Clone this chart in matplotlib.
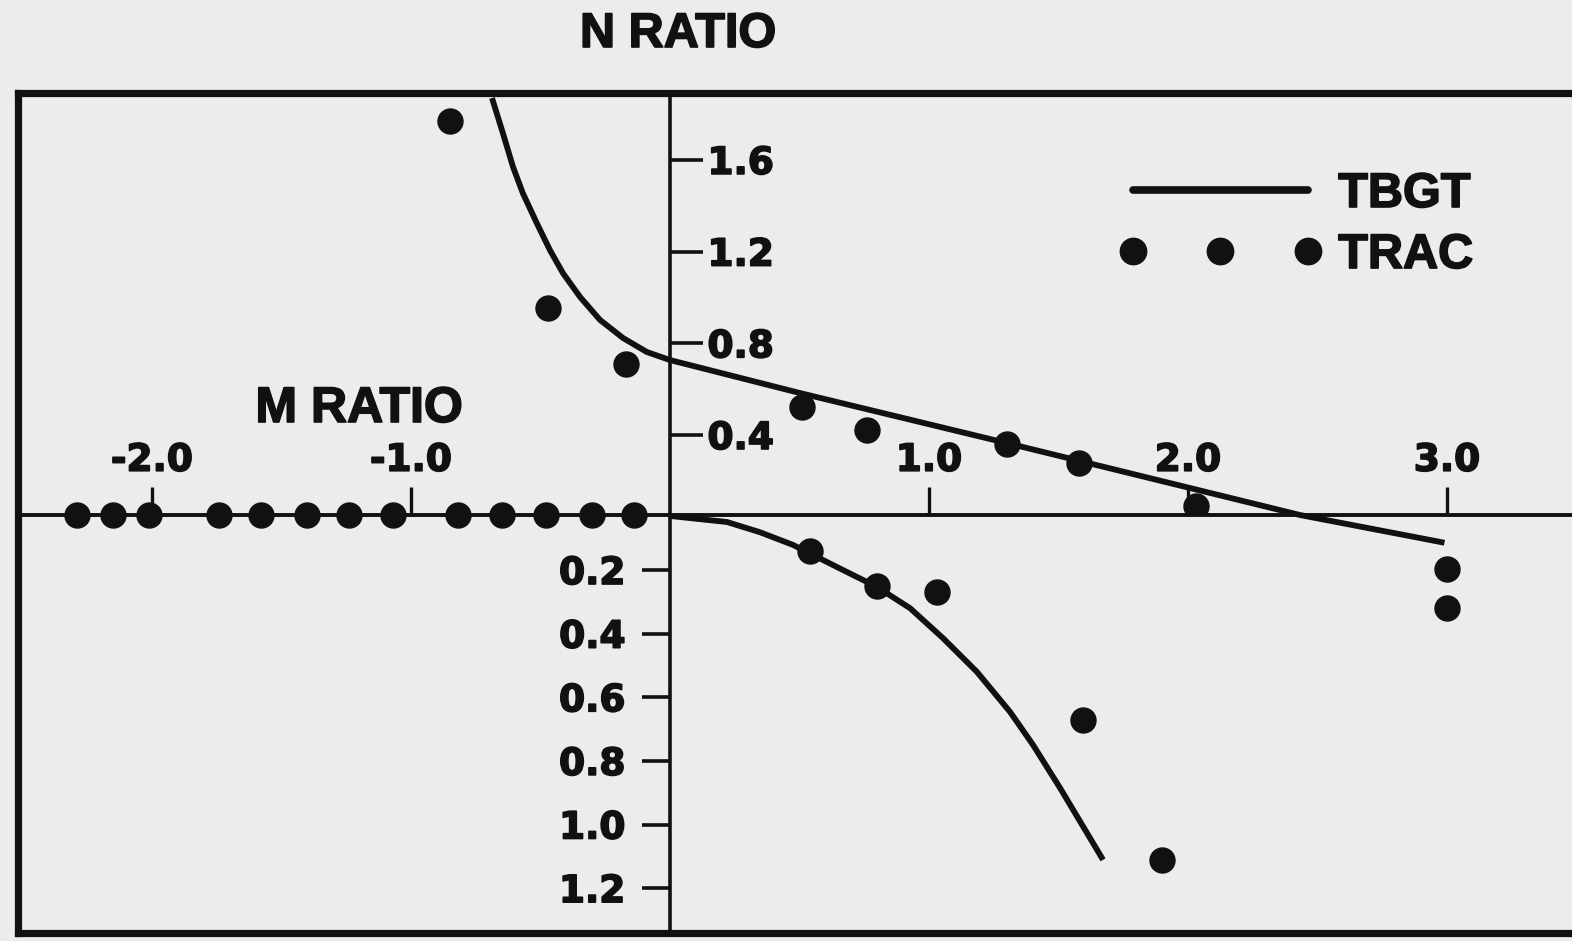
import matplotlib
matplotlib.use('Agg')
import matplotlib.pyplot as plt
import matplotlib.patheffects as pe
from matplotlib.lines import Line2D

# values
# TBGT curve, upper half (N ratio positive)
tbgt_up_m = [-0.687, -0.645, -0.606, -0.568, -0.514, -0.463, -0.413, -0.347, -0.270, -0.181, -0.089,
             0.0, 0.502, 1.30, 2.432, 2.99]
tbgt_up_n = [1.870, 1.717, 1.570, 1.455, 1.324, 1.206, 1.106, 1.002, 0.902, 0.823, 0.762,
             0.727, 0.583, 0.365, 0.051, -0.07]
# TBGT curve, lower half
tbgt_lo_m = [0.0, 0.220, 0.347, 0.475, 0.668, 0.799, 0.927, 1.054, 1.185, 1.313, 1.402, 1.506, 1.672]
tbgt_lo_n = [0.030, 0.049, 0.081, 0.121, 0.200, 0.253, 0.320, 0.414, 0.520, 0.646, 0.750, 0.885, 1.111]
# TRAC points
trac_up_m = [-0.85, -0.47, -0.17, 0.51, 0.76, 1.30, 1.58, 2.03]
trac_up_n = [1.77, 0.955, 0.71, 0.52, 0.42, 0.36, 0.28, 0.09]
trac_lo_m = [0.54, 0.80, 1.03, 1.595, 1.90, 3.0, 3.0]
trac_lo_n = [0.14, 0.25, 0.268, 0.671, 1.11, 0.197, 0.32]
trac_axis_m = [-2.29, -2.15, -2.01, -1.74, -1.58, -1.40, -1.24, -1.07, -0.82, -0.65, -0.48, -0.30, -0.14]
trac_axis_n = [0] * len(trac_axis_m)

m_ticks = [-2.0, -1.0, 1.0, 2.0, 3.0]
m_labels = ['-2.0', '-1.0', '1.0', '2.0', '3.0']
n_up_ticks = [0.4, 0.8, 1.2, 1.6]
n_lo_ticks = [0.2, 0.4, 0.6, 0.8, 1.0, 1.2]

INK = '#111111'
BG = '#ececec'
W, H = 1572, 941

# the scan's lettering is heavy, a thin stroke thickens the glyphs
BOLDEN = [pe.withStroke(linewidth=1.2, foreground=INK)]
TXT = dict(family='Liberation Sans', weight='bold', color=INK, path_effects=BOLDEN)
TICKFONT = dict(family='DejaVu Sans', weight='bold', path_effects=BOLDEN)

fig = plt.figure(figsize=(W / 100, H / 100), dpi=100, facecolor=BG)

# outer frame
frame = fig.add_axes([18 / W, 1 - 933 / H, (1590 - 18) / W, (933 - 93) / H])
frame.set_facecolor('none')
frame.set_xticks([])
frame.set_yticks([])
for s in frame.spines.values():
    s.set_linewidth(5.2)
    s.set_color(INK)

xlim = (-2.517, 3.552)

# upper half
top = fig.add_axes([18 / W, 1 - 515 / H, (1590 - 18) / W, (515 - 93) / H])
top.set_facecolor('none')
top.set_xlim(xlim)
top.set_ylim(0.051, 1.892)
for k in ['top', 'left']:
    top.spines[k].set_visible(False)
top.spines['bottom'].set_linewidth(2.8)
top.spines['bottom'].set_color(INK)
top.spines['right'].set_position(('data', 0))
top.spines['right'].set_linewidth(2.6)
top.spines['right'].set_color(INK)
top.yaxis.tick_right()
top.set_yticks(n_up_ticks)
top.set_yticklabels([f'{v:.1f}' for v in n_up_ticks], **TICKFONT)
top.tick_params(axis='y', direction='out', length=24, width=2.6, pad=3,
                labelsize=27, colors=INK)
top.set_xticks(m_ticks)
top.set_xticklabels(m_labels, **TICKFONT)
top.tick_params(axis='x', direction='in', length=20, width=2.4, pad=-52,
                labelsize=27, colors=INK)

top.plot(tbgt_up_m, tbgt_up_n, color=INK, lw=4.2, clip_on=False,
         solid_capstyle='butt', solid_joinstyle='round', zorder=3)
top.plot(trac_up_m, trac_up_n, 'o', color=INK, ms=18, zorder=4)
top.plot(trac_axis_m, trac_axis_n, 'o', color=INK, ms=18, clip_on=False,
         transform=top.get_xaxis_transform(), zorder=4)

# lower half
bot = fig.add_axes([18 / W, 1 - 933 / H, (1590 - 18) / W, (933 - 515) / H])
bot.set_facecolor('none')
bot.set_xlim(xlim)
bot.set_ylim(1.341, 0.027)
for k in ['top', 'right', 'bottom']:
    bot.spines[k].set_visible(False)
bot.spines['left'].set_position(('data', 0))
bot.spines['left'].set_linewidth(2.6)
bot.spines['left'].set_color(INK)
bot.set_xticks([])
bot.set_yticks(n_lo_ticks)
bot.set_yticklabels([f'{v:.1f}' for v in n_lo_ticks], **TICKFONT)
bot.tick_params(axis='y', direction='out', length=20, width=2.6, pad=12,
                labelsize=27, colors=INK)

bot.plot(tbgt_lo_m, tbgt_lo_n, color=INK, lw=4.2, solid_capstyle='butt',
         solid_joinstyle='round', zorder=3)
bot.plot(trac_lo_m, trac_lo_n, 'o', color=INK, ms=18, zorder=4)

# titles
fig.text(678 / W, 1 - 47 / H, 'N RATIO', ha='center', va='baseline', fontsize=35, **TXT)
top.text(-1.20, 0.051 + (515 - 422) / 229.2, 'M RATIO', ha='center', va='baseline',
         fontsize=36, **TXT)

# legend
handles = [Line2D([], [], color=INK, lw=5.5, solid_capstyle='round'),
           Line2D([], [], color=INK, ls='none', marker='o', ms=19)]
leg = fig.legend(handles, ['TBGT', 'TRAC'], loc='upper left',
                 bbox_to_anchor=(1118 / W, 1 - 172 / H), frameon=False,
                 prop=dict(family='Liberation Sans', weight='bold', size=35),
                 labelcolor=INK, handlelength=4.2, handletextpad=0.33,
                 labelspacing=0.33, numpoints=3, borderpad=0, borderaxespad=0,
                 markerfirst=True)
for t in leg.get_texts():
    t.set_path_effects(BOLDEN)

fig.savefig('out.png', dpi=100, facecolor=BG)
